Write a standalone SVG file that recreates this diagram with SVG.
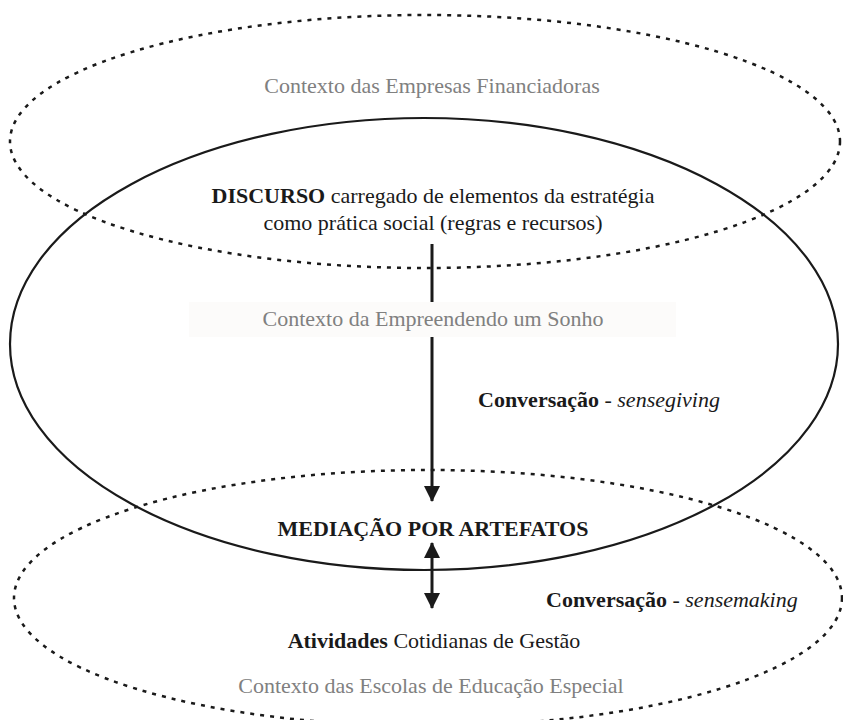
<svg xmlns="http://www.w3.org/2000/svg" width="843" height="720" viewBox="0 0 843 720">
  <style>
    .ctx { fill: none; stroke: #1a1a1a; stroke-width: 2.5; stroke-dasharray: 4 6; }
    .solid { fill: none; stroke: #1a1a1a; stroke-width: 2.2; }
    .t { font-family: "Liberation Serif", "Times New Roman", serif; font-size: 22px; fill: #1a1a1a; }
    .g { fill: #808080; }
    .b { font-weight: bold; }
    .i { font-style: italic; }
    .arrow { stroke: #1a1a1a; stroke-width: 3; fill: none; }
  </style>
  <defs>
    <marker id="head" viewBox="0 0 16 16" refX="15" refY="8" markerWidth="16" markerHeight="16" markerUnits="userSpaceOnUse" orient="auto-start-reverse">
      <path d="M0,0 L16,8 L0,16 Z" fill="#1a1a1a"/>
    </marker>
  </defs>
  <rect width="843" height="720" fill="#ffffff"/>

  <g id="ctx-empresas">
    <ellipse class="ctx" cx="425" cy="141.5" rx="415" ry="126.5"/>
    <text class="t g" x="432" y="93" text-anchor="middle">Contexto das Empresas Financiadoras</text>
  </g>

  <g id="ctx-escolas">
    <ellipse class="ctx" cx="428" cy="598" rx="414" ry="128"/>
    <text class="t g" x="431" y="693" text-anchor="middle">Contexto das Escolas de Educação Especial</text>
  </g>

  <g id="ctx-empreendendo">
    <ellipse class="solid" cx="424" cy="344" rx="414" ry="226"/>
  </g>

  <g id="connectors">
    <line class="arrow" x1="432" y1="244" x2="432" y2="501" marker-end="url(#head)"/>
    <line class="arrow" x1="432" y1="543" x2="432" y2="608" marker-start="url(#head)" marker-end="url(#head)"/>
  </g>

  <g id="label-empreendendo">
    <rect x="189" y="302" width="487" height="35" fill="#fcfbfa"/>
    <text class="t g" x="433" y="326" text-anchor="middle">Contexto da Empreendendo um Sonho</text>
  </g>

  <g id="discurso">
    <text class="t" x="433" y="203" text-anchor="middle"><tspan class="b">DISCURSO</tspan> carregado de elementos da estratégia</text>
    <text class="t" x="433" y="230" text-anchor="middle">como prática social (regras e recursos)</text>
  </g>

  <g id="sensegiving">
    <text class="t" x="478" y="407"><tspan class="b">Conversação</tspan> - <tspan class="i">sensegiving</tspan></text>
  </g>

  <g id="mediacao">
    <text class="t b" x="433" y="536" text-anchor="middle">MEDIAÇÃO POR ARTEFATOS</text>
  </g>

  <g id="sensemaking">
    <text class="t" x="546" y="607"><tspan class="b">Conversação</tspan> - <tspan class="i">sensemaking</tspan></text>
  </g>

  <g id="atividades">
    <text class="t" x="434" y="648" text-anchor="middle"><tspan class="b">Atividades</tspan> Cotidianas de Gestão</text>
  </g>
</svg>
